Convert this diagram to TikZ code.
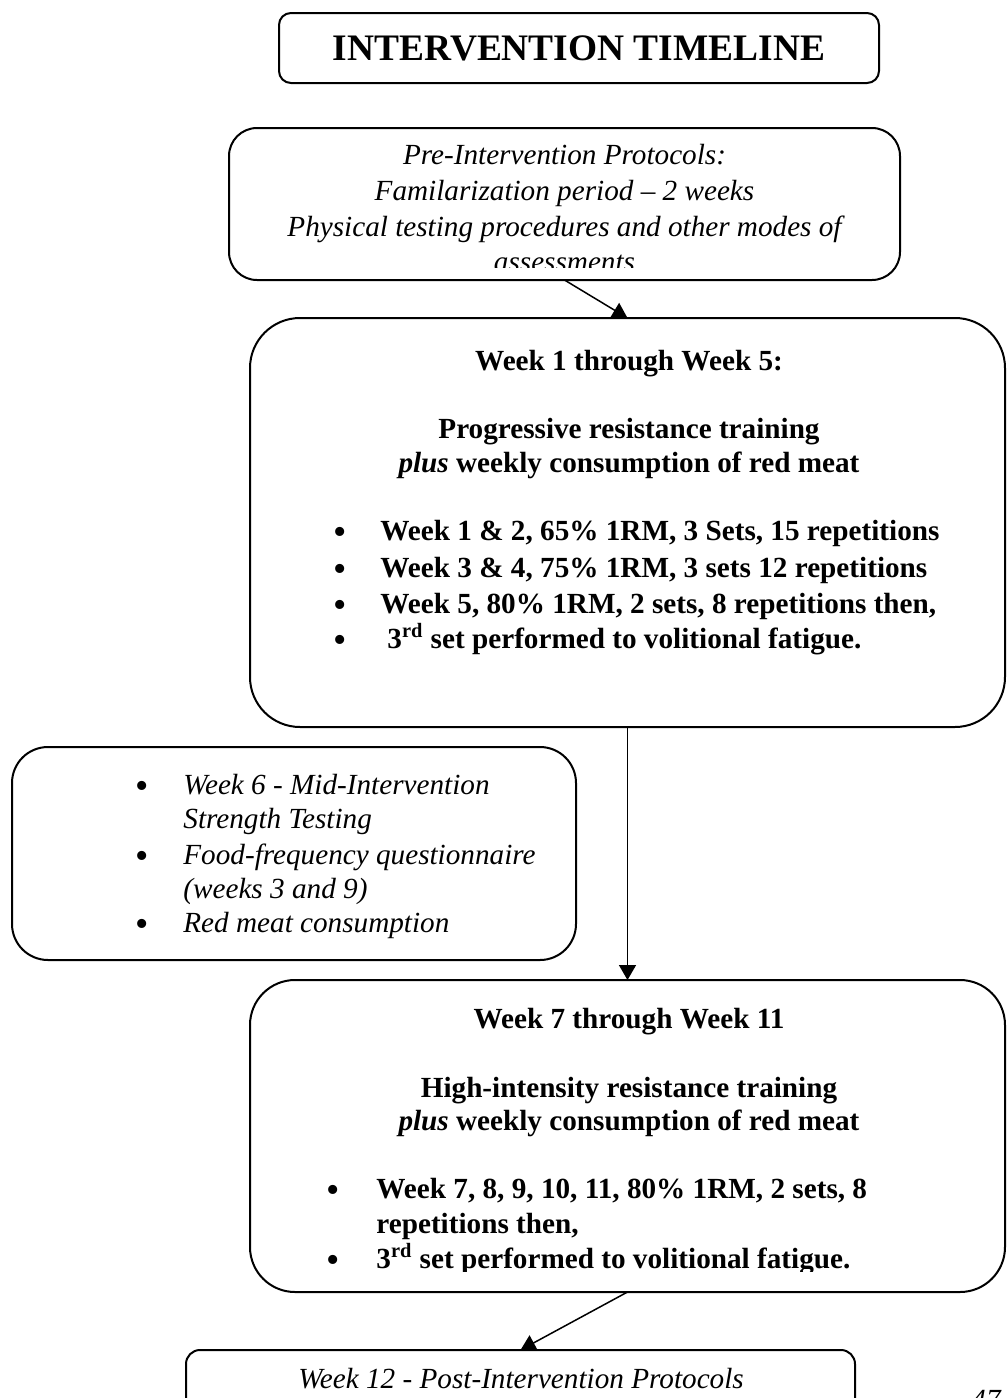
\documentclass[tikz,border=0pt]{standalone}
\usepackage{fontspec}
\setmainfont{Liberation Serif}
\usetikzlibrary{arrows.meta}
\newcommand\myBodyFont{\fontsize{14.6pt}{17.5pt}\selectfont}
\newcommand\myBulFont{\fontsize{19pt}{19pt}\selectfont}
\newcommand\myTitleFont{\fontsize{18.7pt}{22pt}\selectfont\bfseries}
\begin{document}
\begin{tikzpicture}[x=0.5pt,y=-0.5pt,
  box/.style={draw, line width=1pt, fill=white, inner sep=0pt, outer sep=0pt},
  conn/.style={line width=0.75pt, -{Triangle[length=7.5pt,width=8.5pt]}},
  itline/.style={inner sep=0pt, anchor=base, font=\myBodyFont\itshape},
  bdline/.style={inner sep=0pt, anchor=base, font=\myBodyFont\bfseries},
  itleft/.style={itline, anchor=base west},
  bdleft/.style={bdline, anchor=base west},
  bul/.style={inner sep=0pt, anchor=base, font=\myBulFont}]
\clip (0,0) rectangle (1007,1398);
\fill[white] (0,0) rectangle (1007,1398);

% ---- boxes ----
\node[box, rounded corners=6pt, minimum width=300pt, minimum height=35pt,
      font=\myTitleFont] (title) at (579,48) {INTERVENTION TIMELINE};
\node[box, rounded corners=14pt, minimum width=335.5pt, minimum height=76pt] (pre) at (564.5,204) {};
\node[box, rounded corners=25pt, minimum width=377.5pt, minimum height=204.5pt] (w1) at (627.5,522.5) {};
\node[box, rounded corners=18pt, minimum width=282pt, minimum height=106.5pt] (mid) at (294,853.5) {};
\node[box, rounded corners=22.5pt, minimum width=377.5pt, minimum height=156pt] (w7) at (627.5,1136) {};
\node[box, rounded corners=7pt, minimum width=334.5pt, minimum height=60pt] (post) at (520.5,1410) {};

% ---- pre-intervention text ----
\node[itline] (p1) at (564.5,164) {Pre-Intervention Protocols:};
\node[itline] (p2) at (564.5,200) {Familarization period – 2 weeks};
\node[itline] (p3) at (564.5,236) {Physical testing procedures and other modes of};
\begin{scope}
  \clip (229,240) rectangle (900,267);
  \node[itline] (p4) at (564.5,271) {assessments};
\end{scope}

% ---- week 1 - 5 text ----
\node[bdline] (a1) at (629,370) {Week 1 through Week 5:};
\node[bdline] (a2) at (629,438) {Progressive resistance training};
\node[bdline] (a3) at (629,472) {\textit{plus} weekly consumption of red meat};
\node[bul] (ab1) at (340,544) {•};
\node[bul] (ab2) at (340,581) {•};
\node[bul] (ab3) at (340,617) {•};
\node[bul] (ab4) at (340,652) {•};
\node[bdleft] (a4) at (380,540) {Week 1 \& 2, 65\% 1RM, 3 Sets, 15 repetitions};
\node[bdleft] (a5) at (380,577) {Week 3 \& 4, 75\% 1RM, 3 sets 12 repetitions};
\node[bdleft] (a6) at (380,613) {Week 5, 80\% 1RM, 2 sets, 8 repetitions then,};
\node[bdleft] (a7) at (387,648) {3\textsuperscript{rd} set performed to volitional fatigue.};

% ---- mid-intervention text ----
\node[bul] (mb1) at (142.5,798) {•};
\node[bul] (mb2) at (142.5,868) {•};
\node[bul] (mb3) at (142.5,936) {•};
\node[itleft] (m1) at (183,794) {Week 6 - Mid-Intervention};
\node[itleft] (m2) at (183,828) {Strength Testing};
\node[itleft] (m3) at (183,864) {Food-frequency questionnaire};
\node[itleft] (m4) at (183,898) {(weeks 3 and 9)};
\node[itleft] (m5) at (183,932) {Red meat consumption};

% ---- week 7 - 11 text ----
\node[bdline] (b1) at (629,1028) {Week 7 through Week 11};
\node[bdline] (b2) at (629,1097) {High-intensity resistance training};
\node[bdline] (b3) at (629,1130) {\textit{plus} weekly consumption of red meat};
\node[bul] (bb1) at (333,1202) {•};
\node[bdleft] (b4) at (376,1198) {Week 7, 8, 9, 10, 11, 80\% 1RM, 2 sets, 8};
\node[bdleft] (b5) at (376,1233) {repetitions then,};
\begin{scope}
  \clip (250,1240) rectangle (1005,1271);
  \node[bul] (bb2) at (333,1272) {•};
  \node[bdleft] (b6) at (376,1268) {3\textsuperscript{rd} set performed to volitional fatigue.};
\end{scope}

% ---- post-intervention text ----
\node[itline] (q1) at (521,1388) {Week 12 - Post-Intervention Protocols};
\node[itline] (pg) at (986,1409) {47};

% ---- connectors ----
\draw[conn] (pre.south) -- (w1.north);
\draw[conn] (w1.south) -- (w7.north);
\draw[conn] (w7.south) -- (post.north);
\end{tikzpicture}
\end{document}
